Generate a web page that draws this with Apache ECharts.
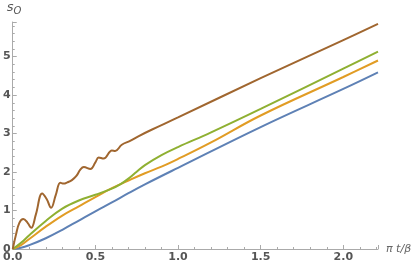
<!DOCTYPE html>
<html><head><meta charset="utf-8">
<script src="https://cdn.jsdelivr.net/npm/echarts@6/dist/echarts.min.js"></script>
<style>html,body{margin:0;padding:0;background:#fff}#c{width:415px;height:268px}</style>
</head><body><div id="c"></div>
<script>
var xTicks = [0, 0.5, 1.0, 1.5, 2.0];
var yTicks = [0, 1, 2, 3, 4, 5];
var tBlue = [0, 0.05, 0.1, 0.2, 0.3, 0.4, 0.5, 0.6, 0.7, 0.8, 1.0, 1.5, 2.0, 2.21];
var vBlue = [0, 0.03, 0.1, 0.28, 0.5, 0.74, 0.98, 1.21, 1.45, 1.68, 2.11, 3.17, 4.16, 4.59];
var tOrange = [0, 0.05, 0.1, 0.2, 0.3, 0.4, 0.5, 0.6, 0.7, 0.8, 0.9, 1.0, 1.2, 1.5, 2.0, 2.21];
var vOrange = [0, 0.1, 0.26, 0.58, 0.87, 1.11, 1.35, 1.58, 1.78, 1.97, 2.14, 2.34, 2.77, 3.47, 4.47, 4.9];
var tGreen = [0, 0.05, 0.1, 0.2, 0.3, 0.4, 0.5, 0.6, 0.65, 0.7, 0.75, 0.8, 0.9, 1.0, 1.2, 1.5, 2.0, 2.21];
var vGreen = [0, 0.16, 0.36, 0.73, 1.05, 1.26, 1.41, 1.57, 1.68, 1.83, 2.01, 2.18, 2.44, 2.65, 3.03, 3.64, 4.69, 5.13];
var tBrown = [0, 0.02, 0.04, 0.064, 0.09, 0.112, 0.14, 0.178, 0.205, 0.232, 0.26, 0.288, 0.308, 0.33, 0.358, 0.385, 0.41, 0.43, 0.47, 0.5, 0.52, 0.55, 0.6, 0.62, 0.66, 0.71, 0.76, 0.84, 1.0, 1.5, 2.0, 2.21];
var vBrown = [0, 0.38, 0.68, 0.78, 0.68, 0.55, 0.9, 1.44, 1.3, 1.07, 1.4, 1.72, 1.7, 1.73, 1.79, 1.9, 2.07, 2.13, 2.08, 2.25, 2.38, 2.35, 2.56, 2.55, 2.71, 2.81, 2.93, 3.1, 3.42, 4.44, 5.43, 5.85];
var colors = ['#5E81B5', '#E19C24', '#8FB032', '#A0662F'];

function pairs(t, v) { return t.map(function (x, i) { return [x, v[i]]; }); }
var series = [[tBlue, vBlue], [tOrange, vOrange], [tGreen, vGreen], [tBrown, vBrown]].map(function (s, i) {
  return { type: 'line', data: pairs(s[0], s[1]), smooth: 0.4, showSymbol: false,
    lineStyle: { color: colors[i], width: 2 }, z: 3 + i };
});
var axisGray = '#aaaaaa';
var chart = echarts.init(document.getElementById('c'), null, { renderer: 'canvas' });
chart.setOption({
  animation: false,
  grid: { left: 10, right: 37, top: 22, bottom: 19, containLabel: false },
  xAxis: {
    type: 'value', min: 0, max: 2.21, interval: 0.5,
    axisLine: { lineStyle: { color: axisGray, width: 1 } },
    axisTick: { inside: true, length: 4, lineStyle: { color: axisGray } },
    minorTick: { show: true, splitNumber: 5, length: 2, lineStyle: { color: axisGray } },
    splitLine: { show: false },
    axisLabel: { showMaxLabel: false, color: '#555', fontSize: 11, fontFamily: 'DejaVu Sans', fontWeight: 'bold', margin: 3,
      formatter: function (v) { return xTicks.indexOf(v) >= 0 ? v.toFixed(1) : ''; } },
    name: 'π t/β', nameLocation: 'end', nameGap: 8,
    nameTextStyle: { color: '#666', fontSize: 11, fontFamily: 'DejaVu Sans', fontStyle: 'italic', verticalAlign: 'middle' }
  },
  yAxis: {
    type: 'value', min: 0, max: 5.9, interval: 1,
    axisLine: { show: true, lineStyle: { color: axisGray, width: 1 } },
    axisTick: { show: true, inside: true, length: 4, lineStyle: { color: axisGray } },
    minorTick: { show: true, splitNumber: 5, length: 2, lineStyle: { color: axisGray } },
    splitLine: { show: false },
    axisLabel: { showMaxLabel: false, color: '#555', fontSize: 11, fontFamily: 'DejaVu Sans', fontWeight: 'bold', margin: 2,
      formatter: function (v) { return yTicks.indexOf(v) >= 0 ? String(v) : ''; } },
    name: '{s|s}{o|O}', nameLocation: 'end', nameGap: 6,
    nameTextStyle: { align: 'left', padding: [0, 0, 0, -6],
      rich: { s: { fontSize: 13, fontStyle: 'italic', color: '#555', fontFamily: 'DejaVu Sans' },
              o: { fontSize: 10, fontStyle: 'italic', color: '#555', fontFamily: 'DejaVu Sans', padding: [6, 0, 0, 0] } } }
  },
  series: series
});
</script></body></html>
